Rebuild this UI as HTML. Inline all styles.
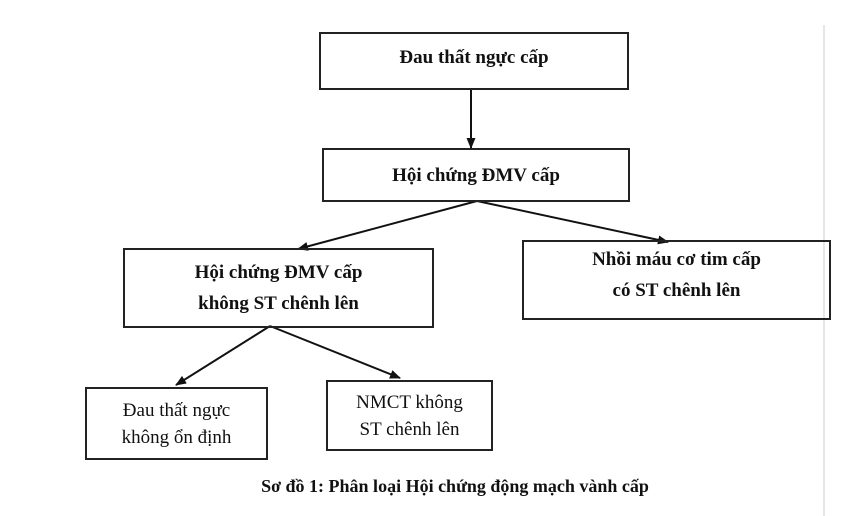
<!DOCTYPE html>
<html><head><meta charset="utf-8"><style>
body{margin:0;width:843px;height:516px;background:#fff;overflow:hidden;position:relative;font-family:"Liberation Serif",serif;color:#111}
.b{position:absolute;border:2px solid #222;box-sizing:border-box;display:flex;align-items:center;justify-content:center;text-align:center;font-size:19px;line-height:31px}
.bold{font-weight:bold}
</style></head><body>
<svg width="843" height="516" style="position:absolute;left:0;top:0">
<defs><marker id="a" markerWidth="11" markerHeight="9" refX="10" refY="4.5" orient="auto" markerUnits="userSpaceOnUse"><path d="M0,0L11,4.5L0,9z" fill="#111"/></marker></defs>
<line x1="824" y1="25" x2="824" y2="516" stroke="#ddd" stroke-width="1.5"/>
<g stroke="#111" stroke-width="2">
<line x1="471" y1="89" x2="471" y2="148" marker-end="url(#a)"/>
<line x1="477" y1="201" x2="298" y2="249" marker-end="url(#a)"/>
<line x1="477" y1="201" x2="668" y2="242" marker-end="url(#a)"/>
<line x1="270" y1="326" x2="176" y2="385" marker-end="url(#a)"/>
<line x1="270" y1="326" x2="400" y2="378" marker-end="url(#a)"/>
</g></svg>
<div class="b bold" style="left:319px;top:32px;width:310px;height:58px;padding-bottom:8px">Đau thất ngực cấp</div>
<div class="b bold" style="left:322px;top:148px;width:308px;height:54px">Hội chứng ĐMV cấp</div>
<div class="b bold" style="left:123px;top:248px;width:311px;height:80px">Hội chứng ĐMV cấp<br>không ST chênh lên</div>
<div class="b bold" style="left:522px;top:240px;width:309px;height:80px;padding-bottom:10px">Nhồi máu cơ tim cấp<br>có ST chênh lên</div>
<div class="b" style="left:85px;top:387px;width:183px;height:73px;line-height:27px">Đau thất ngực<br>không ổn định</div>
<div class="b" style="left:326px;top:380px;width:167px;height:71px;line-height:27px">NMCT không<br>ST chênh lên</div>
<div style="position:absolute;left:0;width:910px;top:476px;text-align:center;font-weight:bold;font-size:18px">Sơ đồ 1: Phân loại Hội chứng động mạch vành cấp</div>
</body></html>
